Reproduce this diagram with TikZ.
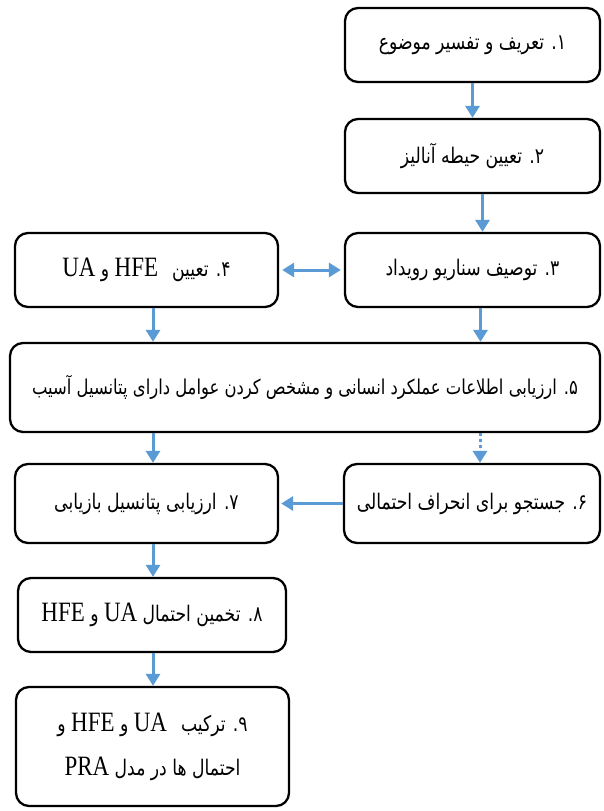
\documentclass[tikz,border=0pt]{standalone}
\usepackage{fontspec}
\setmainfont{Liberation Serif}
\newfontfamily\fa[Script=Arabic, FakeStretch=0.8]{DejaVu Sans}
\newfontfamily\latf[FakeStretch=0.82]{Liberation Serif}
\TeXXeTstate=1
\usetikzlibrary{arrows.meta}
\definecolor{arrowblue}{HTML}{5B9BD5}
\newcommand{\lat}[1]{\beginL{\latf\fontsize{28}{30}\selectfont #1}\endL}
\newcommand{\num}[1]{#1\kern0pt.}
\begin{document}
\begin{tikzpicture}[x=1pt,y=-1pt,
  box/.style={draw, line width=2.3pt, rounded corners=13pt, align=center,
    font=\fa\fontsize{21.5}{26}\selectfont, inner sep=0pt},
  arr/.style={-{Triangle[length=12pt,width=14pt]}, line width=3pt, draw=arrowblue, fill=arrowblue},
  arrtwo/.style={{Triangle[length=12pt,width=14pt]}-{Triangle[length=12pt,width=14pt]}, line width=3pt, draw=arrowblue, fill=arrowblue}]
\useasboundingbox[fill=white] (0,0) rectangle (603,811);

\node[box, minimum width=255pt, minimum height=74pt] (b1) at (472.5,45) {\beginR \num{۱} تعریف و تفسیر موضوع\endR};
\node[box, minimum width=255pt, minimum height=74pt] (b2) at (472.5,156) {\beginR \num{۲} تعیین حیطه آنالیز\endR};
\node[box, minimum width=255pt, minimum height=74pt] (b3) at (472.5,270) {\beginR \num{۳} توصیف سناریو رویداد\endR};
\node[box, minimum width=263pt, minimum height=74pt] (b4) at (146.5,270) {\beginR \num{۴} تعیین\hspace{14pt}\lat{HFE} و \lat{UA}\endR};
\node[box, minimum width=590pt, minimum height=89pt, font=\fa\fontsize{20.5}{24}\selectfont] (b5) at (305,387.5) {\beginR \num{۵} ارزیابی اطلاعات عملکرد انسانی و مشخص کردن عوامل دارای پتانسیل آسیب\endR};
\node[box, minimum width=256pt, minimum height=79pt] (b6) at (472,503.5) {\beginR \num{۶} جستجو برای انحراف احتمالی\endR};
\node[box, minimum width=263pt, minimum height=79pt] (b7) at (146.5,503.5) {\beginR \num{۷} ارزیابی پتانسیل بازیابی\endR};
\node[box, minimum width=268pt, minimum height=74pt] (b8) at (152,615) {\beginR \num{۸} تخمین احتمال \lat{UA} و \lat{HFE}\endR};
\node[box, minimum width=273pt, minimum height=119pt] (b9) at (152.5,746.5) {\beginR \num{۹} ترکیب\hspace{14pt}\lat{UA} و \lat{HFE} و\endR\\[18pt]\beginR احتمال ها در مدل \lat{PRA}\endR};

\draw[arr] (b1.south) -- (b2.north);
\draw[arr] ([xshift=10pt]b2.south) -- ([xshift=10pt]b3.north);
\draw[arrtwo, shorten <=3pt, shorten >=3pt] (b4.east) -- (b3.west);
\draw[arr] ([xshift=6.5pt]b4.south) -- ([xshift=6.5pt]b4.south |- b5.north);
\draw[arr] ([xshift=8pt]b3.south) -- ([xshift=8pt]b3.south |- b5.north);
\draw[arr] ([xshift=6.5pt]b7.north |- b5.south) -- ([xshift=6.5pt]b7.north);
\draw[arr, dash pattern=on 3pt off 3pt] ([xshift=8pt]b6.north |- b5.south) -- ([xshift=8pt]b6.north);
\draw[arr, shorten >=2pt] (b6.west) -- (b7.east);
\draw[arr] ([xshift=6.5pt]b7.south) -- ([xshift=6.5pt]b7.south |- b8.north);
\draw[arr] ([xshift=6.5pt]b7.south |- b8.south) -- ([xshift=6.5pt]b7.south |- b9.north);
\end{tikzpicture}
\end{document}
